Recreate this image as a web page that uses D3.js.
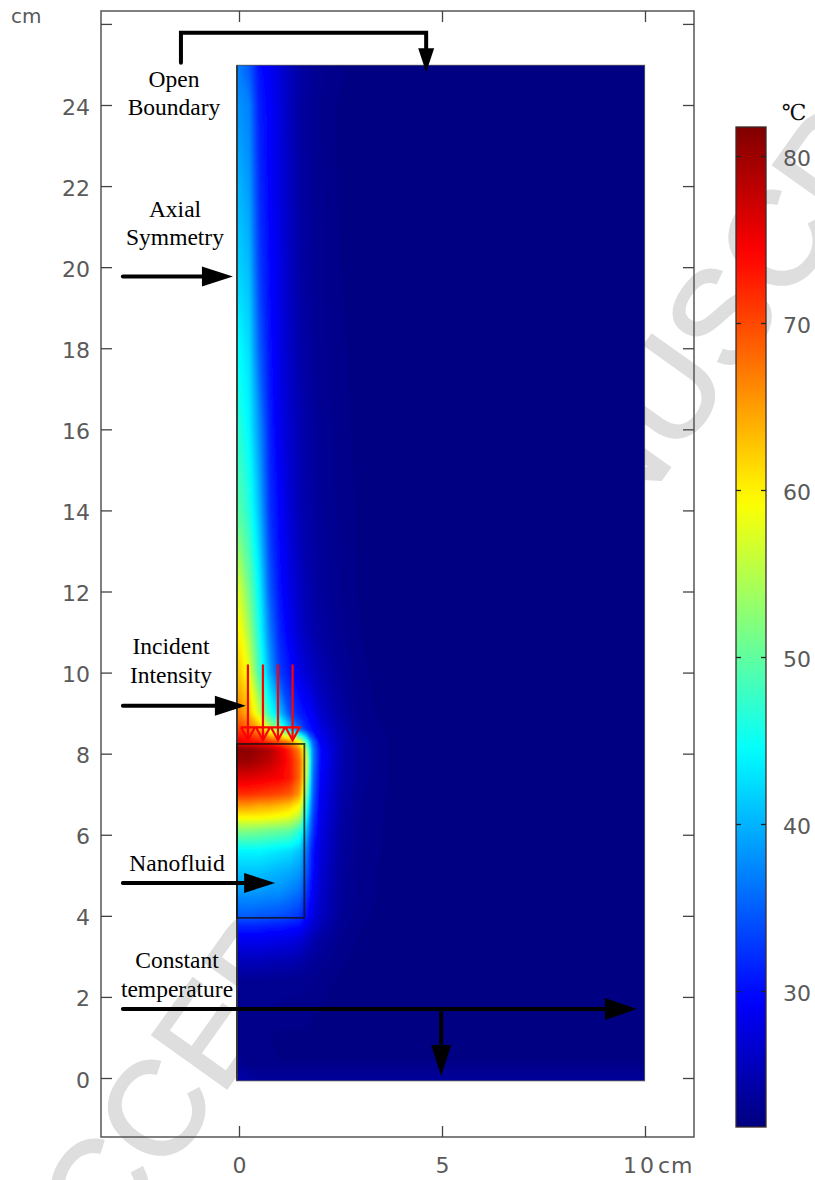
<!DOCTYPE html>
<html>
<head>
<meta charset="utf-8">
<script src="https://cdn.jsdelivr.net/npm/d3@7"></script>
<style>
  html, body { margin: 0; padding: 0; background: #fff; }
  svg { display: block; }
  .tick-label { font-family: "DejaVu Sans", sans-serif; font-size: 22px; fill: #5a5a5a; }
  .note { font-family: "Liberation Serif", serif; font-size: 23.5px; fill: #000; text-anchor: middle; }
</style>
</head>
<body>
<script>
/* ** DATA ** */
const xTicks = [0, 5, 10];
const yTicks = [0, 2, 4, 6, 8, 10, 12, 14, 16, 18, 20, 22, 24, 26];
const barTicks = [30, 40, 50, 60, 70, 80];

// jet colormap, temperature stops
const jetTemps = [22, 29.46, 44.39, 59.3, 74.2, 81.7];
const jetColors = ["#000080", "#0000ff", "#00ffff", "#ffff00", "#ff0000", "#800000"];

// temperature grid (deg C)
const gridX = [0, 0.25, 0.5, 0.75, 1, 1.25, 1.5, 1.65, 1.8, 2, 2.5, 3, 4, 10];
const gridZ = [25, 24.8, 24, 22, 20, 18, 16, 14, 12, 11, 10, 9, 8.6, 8.3, 8.1, 7.8, 7.4, 7, 6.7, 6.45, 6.1, 5.6, 5.1, 4.6, 4, 3.7, 3.4, 2.9, 2.4, 1, 0.4, 0];
const gridT = [
  [37, 35, 30, 29, 27, 25.5, 24, 23.5, 23, 22.8, 22.3, 22, 22, 22],
  [37, 35, 30.5, 29, 27.3, 25.5, 24.2, 23.8, 23.3, 23, 22.5, 22.2, 22, 22],
  [38, 37, 31, 29.5, 27.5, 25.5, 24, 23.6, 23.2, 22.8, 22.3, 22, 22, 22],
  [40, 38.5, 32, 29.5, 27.6, 25.8, 24.2, 23.7, 23.2, 22.9, 22.3, 22, 22, 22],
  [41.7, 40.5, 33, 30, 28, 25.8, 24.2, 23.8, 23.3, 23, 22.4, 22.1, 22, 22],
  [44.4, 42.5, 35, 30.5, 28, 26, 24.5, 24, 23.5, 23, 22.5, 22.2, 22, 22],
  [46.8, 44, 38, 31.5, 28.4, 26.5, 25, 24.3, 23.7, 23.2, 22.6, 22.2, 22, 22],
  [49.5, 46.5, 40.5, 32.5, 29.5, 27, 25, 24.5, 24, 23.3, 22.7, 22.3, 22, 22],
  [57, 51, 44, 35, 30.5, 28, 26, 25, 24.3, 23.6, 22.8, 22.3, 22, 22],
  [60, 54, 45.5, 37, 31.5, 28.8, 26.5, 25.5, 24.7, 24, 23, 22.4, 22, 22],
  [62.6, 58, 48, 39.5, 33, 30.5, 28, 27, 26, 25, 23.3, 22.5, 22, 22],
  [67, 63, 56, 46.5, 41, 34, 31, 30, 29, 26.5, 24, 22.6, 22, 22],
  [71, 68, 64.5, 56.5, 51, 41.5, 35, 32, 30, 28, 24.5, 22.8, 22.1, 22],
  [75, 74, 73, 71, 69, 66, 58, 48, 36, 29, 25, 23, 22.1, 22],
  [81, 81, 80, 79, 76, 72, 66, 55, 38, 30, 25, 23, 22.1, 22],
  [80, 80, 79, 78, 76, 73, 68, 58, 38, 30, 25, 23, 22.1, 22],
  [76, 76, 75.5, 75, 74.5, 73, 68, 56, 37, 29.5, 24.8, 23, 22.1, 22],
  [71.5, 71.5, 71, 70.5, 70, 69, 65, 52, 36, 29, 24.6, 22.9, 22.1, 22],
  [65, 65, 64, 64, 63, 62, 59, 48, 35, 28.8, 24.4, 22.8, 22.1, 22],
  [60, 60, 60, 59.5, 59, 58, 55, 45, 34, 28.5, 24.2, 22.8, 22.1, 22],
  [52, 52, 51.5, 51, 50.5, 50, 47, 41, 33, 28, 24, 22.7, 22.1, 22],
  [44, 44, 44, 43.5, 43, 42.5, 41, 37, 31, 27.5, 23.8, 22.7, 22.1, 22],
  [41, 41, 41, 40.5, 40, 39.5, 38.5, 35, 30.5, 27, 23.6, 22.6, 22.1, 22],
  [38.5, 38.5, 38.5, 38, 38, 37, 36, 33, 29.5, 26.5, 23.5, 22.6, 22.1, 22],
  [35, 35, 34.5, 34.5, 34, 33.5, 32.5, 30.5, 28, 26, 23.3, 22.5, 22.1, 22],
  [31, 31, 31, 30.5, 30.5, 30, 29.5, 28, 26.5, 25, 23, 22.4, 22, 22],
  [28.5, 28.5, 28.5, 28.3, 28, 27.8, 27, 26, 25, 24, 22.8, 22.3, 22, 22],
  [25.5, 25.5, 25.5, 25.3, 25, 25, 24.5, 24, 23.6, 23.2, 22.5, 22.2, 22, 22],
  [23.2, 23.2, 23.2, 23.2, 23.1, 23, 23, 22.9, 22.8, 22.6, 22.3, 22.1, 22, 22],
  [22.4, 22.4, 22.4, 22.4, 22.3, 22.3, 22.3, 22.3, 22.2, 22.2, 22.1, 22, 22, 22],
  [23, 22.5, 22.4, 22.4, 22.4, 22.4, 22.4, 22.4, 22.4, 22.4, 22.4, 22.4, 22.4, 22.4],
  [24.5, 23.8, 23.4, 23.4, 23.4, 23.4, 23.4, 23.4, 23.4, 23.4, 23.4, 23.4, 23.4, 23.4]
];

// nanofluid box and incident intensity, in cm
const boxX = [0, 1.61];
const boxZ = [3.95, 8.24];
const incidentX = [0.22, 0.59, 0.96, 1.32];
const incidentZ = [10.2, 8.33];

// annotation arrows, in cm: polyline [x, z] points, last one is the tip
const openArrow = [[-1.43, 25.04], [-1.43, 25.78], [4.61, 25.78], [4.61, 24.81]];
const axialArrow = [[-2.86, 19.77], [-0.15, 19.77]];
const incidentArrow = [[-2.86, 9.18], [0.17, 9.18]];
const nanoArrow = [[-2.86, 4.81], [0.89, 4.81]];
const constantArrow = [[-2.86, 1.7], [9.8, 1.7]];
const downArrow = [[4.98, 1.7], [4.98, 0.05]];

const notes = [
  ["Open", 174, 87], ["Boundary", 174, 115],
  ["Axial", 175, 217], ["Symmetry", 175, 245],
  ["Incident", 171, 654], ["Intensity", 171, 683],
  ["Nanofluid", 177, 871],
  ["Constant", 177, 968], ["temperature", 177, 997]
];

/* ** SETUP ** */
const svg = d3.select("body").append("svg").attr("width", 815).attr("height", 1180);

const x = d3.scaleLinear().domain([0, 10]).range([239, 645]);
const y = d3.scaleLinear().domain([0, 24]).range([1078, 105]);
const barY = d3.scaleLinear().domain([30, 80]).range([991, 156]);
const color = d3.scaleLinear().domain(jetTemps).range(jetColors);

const frame = { left: 101, right: 694, top: 11, bottom: 1137 };

/* ** WATERMARK ** */
svg.append("text").text("ACCEPTED MANUSCRIPT")
  .attr("transform", "translate(56,1328) rotate(-54.5)")
  .attr("font-family", "Liberation Sans, sans-serif")
  .attr("font-size", 133)
  .attr("fill", "#dedede").attr("stroke", "#dedede").attr("stroke-width", 2.5)
  .style("letter-spacing", "1px");

/* ** TEMPERATURE FIELD ** */
const defs = svg.append("defs");
const fieldLeft = x(-0.05), fieldRight = x(9.99), fieldTop = y(24.98), fieldBottom = y(-0.07);
defs.append("clipPath").attr("id", "field-clip").append("rect")
  .attr("x", fieldLeft).attr("y", fieldTop)
  .attr("width", fieldRight - fieldLeft).attr("height", fieldBottom - fieldTop);
defs.append("filter").attr("id", "soft").attr("x", "-2%").attr("y", "-2%").attr("width", "104%").attr("height", "104%")
  .append("feGaussianBlur").attr("stdDeviation", 1.2);

const nx = gridX.length, nz = gridZ.length;
// contour space has grid nodes at i + 0.5, so map those back to cm
const cx = d3.scaleLinear()
  .domain([0, ...gridX.map((d, i) => i + 0.5), nx])
  .range([fieldLeft - 3, ...gridX.map(d => x(d)), fieldRight + 3]);
const cz = d3.scaleLinear()
  .domain([0, ...gridZ.map((d, i) => i + 0.5), nz])
  .range([fieldTop - 3, ...gridZ.map(d => y(d)), fieldBottom + 3]);

const thresholds = d3.range(22, 82, 0.4);
const contours = d3.contours().size([nx, nz]).thresholds(thresholds)(gridT.flat());
const path = d3.geoPath(d3.geoTransform({
  point(a, b) { this.stream.point(cx(a), cz(b)); }
}));

const field = svg.append("g").attr("clip-path", "url(#field-clip)").append("g").attr("filter", "url(#soft)");
field.append("rect")
  .attr("x", fieldLeft - 5).attr("y", fieldTop - 5)
  .attr("width", fieldRight - fieldLeft + 10).attr("height", fieldBottom - fieldTop + 10)
  .attr("fill", color(22));
field.selectAll("path").data(contours).enter().append("path")
  .attr("d", path)
  .attr("fill", d => color(d.value + 0.2));

// domain edge
svg.append("rect")
  .attr("x", fieldLeft).attr("y", fieldTop)
  .attr("width", fieldRight - fieldLeft).attr("height", fieldBottom - fieldTop)
  .attr("fill", "none").attr("stroke", "#333").attr("stroke-width", 1).attr("stroke-opacity", 0.7);
svg.append("line")
  .attr("x1", fieldLeft).attr("x2", fieldLeft).attr("y1", fieldTop).attr("y2", fieldBottom)
  .attr("stroke", "#333").attr("stroke-width", 1.8);

// nanofluid box
svg.append("rect")
  .attr("x", x(boxX[0]) - 2).attr("y", y(boxZ[1]))
  .attr("width", x(boxX[1]) - x(boxX[0]) + 2).attr("height", y(boxZ[0]) - y(boxZ[1]))
  .attr("fill", "none").attr("stroke", "#111").attr("stroke-width", 1.8).attr("stroke-opacity", 0.8);

/* ** INCIDENT ARROWS ** */
const incident = svg.append("g").attr("fill", "none").attr("stroke", "#f00").attr("stroke-width", 2.2);
incident.selectAll("line").data(incidentX).enter().append("line")
  .attr("x1", d => x(d)).attr("x2", d => x(d))
  .attr("y1", y(incidentZ[0])).attr("y2", y(incidentZ[1]));
incident.selectAll("path").data(incidentX).enter().append("path")
  .attr("d", d => {
    const tip = y(incidentZ[1]);
    return d3.line()([[x(d) - 7, tip - 13], [x(d), tip], [x(d) + 7, tip - 13], [x(d) - 7, tip - 13]]);
  });

/* ** FRAME AND AXES ** */
svg.append("rect")
  .attr("x", frame.left).attr("y", frame.top)
  .attr("width", frame.right - frame.left).attr("height", frame.bottom - frame.top)
  .attr("fill", "none").attr("stroke", "#555").attr("stroke-width", 1.5);

function styleAxis(g) {
  g.select(".domain").remove();
  g.selectAll("line").attr("stroke", "#444").attr("stroke-width", 1.3);
  g.selectAll("text").attr("class", "tick-label").attr("font-family", null).attr("font-size", null);
}

svg.append("g").attr("transform", `translate(${frame.left},2)`)
  .call(d3.axisLeft(y).tickValues(yTicks).tickSize(-11).tickPadding(11)
    .tickFormat(d => d === 26 ? "" : d))
  .call(styleAxis)
  .selectAll("line").attr("transform", "translate(0,-2)");
svg.append("g").attr("transform", `translate(${frame.right},0)`)
  .call(d3.axisRight(y).tickValues(yTicks).tickSize(-11).tickFormat(""))
  .call(styleAxis);
svg.append("g").attr("transform", `translate(0,${frame.bottom})`)
  .call(d3.axisBottom(x).tickValues(xTicks).tickSize(-11).tickPadding(20)
    .tickFormat(d => d === 10 ? "" : d))
  .call(styleAxis);
svg.append("g").attr("transform", `translate(0,${frame.top})`)
  .call(d3.axisTop(x).tickValues(xTicks).tickSize(-11).tickFormat(""))
  .call(styleAxis);

svg.append("text").attr("class", "tick-label").attr("x", 623).attr("y", 1173).text("10")
  .style("letter-spacing", "3px");
svg.append("text").attr("class", "tick-label").attr("x", 658).attr("y", 1173).text("cm")
  .style("letter-spacing", "1px");
svg.append("text").attr("class", "tick-label").attr("x", 11).attr("y", 23).text("cm")
  .style("font-size", "20px");

/* ** ANNOTATIONS ** */
const arrows = [
  [openArrow, 24, 8], [axialArrow, 31, 10], [incidentArrow, 31, 10],
  [nanoArrow, 31, 10], [constantArrow, 32, 11], [downArrow, 31, 10]
];
const toPx = p => [x(p[0]), y(p[1])];
const arrowG = svg.append("g");
arrows.forEach(([pts, headLen, headHalf]) => {
  const px = pts.map(toPx);
  const tip = px[px.length - 1], prev = px[px.length - 2];
  const len = Math.hypot(tip[0] - prev[0], tip[1] - prev[1]);
  const ux = (tip[0] - prev[0]) / len, uy = (tip[1] - prev[1]) / len;
  const base = [tip[0] - ux * headLen, tip[1] - uy * headLen];
  arrowG.append("path")
    .attr("d", d3.line()([...px.slice(0, -1), base]))
    .attr("fill", "none").attr("stroke", "#000").attr("stroke-width", 4)
    .attr("stroke-linecap", "round").attr("stroke-linejoin", "miter");
  arrowG.append("path")
    .attr("d", d3.line()([tip, [base[0] - uy * headHalf, base[1] + ux * headHalf], [base[0] + uy * headHalf, base[1] - ux * headHalf]]) + "Z")
    .attr("fill", "#000");
});

svg.selectAll(".note").data(notes).enter().append("text")
  .attr("class", "note")
  .attr("x", d => d[1]).attr("y", d => d[2])
  .text(d => d[0]);

/* ** COLOUR BAR ** */
const barLeft = 736, barRight = 766, barTop = 127, barBottom = 1127;
const barScale = d3.scaleLinear().domain([barTop, barBottom]).range([barY.invert(barTop), barY.invert(barBottom)]);
const grad = defs.append("linearGradient").attr("id", "jet")
  .attr("x1", 0).attr("x2", 0).attr("y1", 0).attr("y2", 1);
d3.range(0, 1.001, 0.02).forEach(t => {
  grad.append("stop").attr("offset", t)
    .attr("stop-color", color(barScale(barTop + t * (barBottom - barTop))));
});
svg.append("rect")
  .attr("x", barLeft).attr("y", barTop)
  .attr("width", barRight - barLeft).attr("height", barBottom - barTop)
  .attr("fill", "url(#jet)").attr("stroke", "#3a2a2a").attr("stroke-width", 1.3);

const barAxis = svg.append("g").attr("transform", `translate(${barRight},2)`)
  .call(d3.axisRight(barY).tickValues(barTicks).tickSize(-5).tickPadding(17).tickFormat(d => d))
  .call(styleAxis);
barAxis.selectAll("line").attr("stroke", "#222").attr("transform", "translate(0,-2)");
svg.append("g").attr("transform", `translate(${barLeft},0)`)
  .call(d3.axisLeft(barY).tickValues(barTicks).tickSize(-5).tickFormat(""))
  .call(styleAxis)
  .selectAll("line").attr("stroke", "#222");

svg.append("text").attr("x", 794).attr("y", 120).attr("text-anchor", "middle")
  .attr("font-family", "DejaVu Serif, serif").attr("font-size", 22).attr("fill", "#111").text("℃");
</script>
</body>
</html>
